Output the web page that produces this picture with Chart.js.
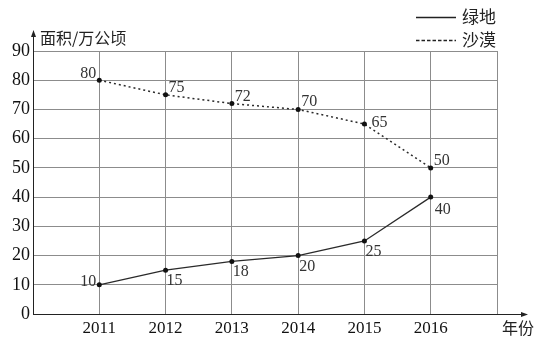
<!DOCTYPE html>
<html>
<head>
<meta charset="utf-8">
<script src="https://cdn.jsdelivr.net/npm/chart.js@4.4.1/dist/chart.umd.min.js"></script>
<style>
  html, body { margin: 0; padding: 0; background: #fff; }
</style>
</head>
<body>
<canvas id="chart" width="554" height="351"></canvas>
<script>
const years = [2011, 2012, 2013, 2014, 2015, 2016];
const greenland = [10, 15, 18, 20, 25, 40];
const desert = [80, 75, 72, 70, 65, 50];
const seriesNames = ['绿地', '沙漠'];
const yTitle = '面积/万公顷';
const xTitle = '年份';

const serif = '"Liberation Serif", "DejaVu Serif", serif';
const cjk = '"Noto Sans CJK SC", sans-serif';
const ink = '#222';

// axis arrows, titles, legend and value labels
const decorations = {
  id: 'decorations',
  afterDraw(chart) {
    const ctx = chart.ctx;
    const a = chart.chartArea;
    ctx.save();
    ctx.strokeStyle = ink;
    ctx.fillStyle = ink;
    ctx.lineWidth = 1;

    // y axis arrow
    ctx.beginPath();
    ctx.moveTo(a.left + 0.5, a.top);
    ctx.lineTo(a.left + 0.5, 35);
    ctx.stroke();
    ctx.beginPath();
    ctx.moveTo(a.left + 0.5, 30);
    ctx.lineTo(a.left - 2, 37);
    ctx.lineTo(a.left + 3, 37);
    ctx.closePath();
    ctx.fill();

    // x axis arrow
    ctx.beginPath();
    ctx.moveTo(a.right, a.bottom + 0.5);
    ctx.lineTo(522, a.bottom + 0.5);
    ctx.stroke();
    ctx.beginPath();
    ctx.moveTo(528, a.bottom + 0.5);
    ctx.lineTo(521, a.bottom - 2);
    ctx.lineTo(521, a.bottom + 3);
    ctx.closePath();
    ctx.fill();

    // axis titles
    ctx.font = '16px ' + cjk;
    ctx.textBaseline = 'middle';
    ctx.textAlign = 'left';
    ctx.fillText(yTitle, 40, 38);
    ctx.fillText(xTitle, 502, 328);

    // legend
    const legendY = [17, 40];
    chart.data.datasets.forEach((ds, i) => {
      ctx.beginPath();
      ctx.setLineDash(ds.borderDash ? [3.5, 2] : []);
      ctx.lineWidth = 1.6;
      ctx.moveTo(416, legendY[i] + 0.5);
      ctx.lineTo(456, legendY[i] + 0.5);
      ctx.stroke();
      ctx.setLineDash([]);
      ctx.font = '17px ' + cjk;
      ctx.fillText(seriesNames[i], 462, legendY[i]);
    });

    // value labels
    ctx.font = '16px ' + serif;
    ctx.fillStyle = '#333';
    ctx.textBaseline = 'alphabetic';
    chart.data.datasets.forEach((ds, di) => {
      const meta = chart.getDatasetMeta(di);
      meta.data.forEach((pt, i) => {
        const text = String(ds.data[i].y);
        let x = pt.x, y = pt.y;
        if (i === 0) {
          ctx.textAlign = 'right';
          x -= 3;
          y += di === 0 ? 1 : -2;
        } else if (di === 0) {
          ctx.textAlign = 'left';
          x += i === years.length - 1 ? 4 : 1;
          y += i === years.length - 1 ? 17 : 15;
        } else {
          ctx.textAlign = 'left';
          x += i === 4 ? 7 : 3;
          y += i === 4 ? 3 : -3;
        }
        ctx.fillText(text, x, y);
      });
    });
    ctx.restore();
  }
};

new Chart(document.getElementById('chart'), {
  type: 'line',
  data: {
    datasets: [{
      label: seriesNames[0],
      data: years.map((yr, i) => ({ x: yr, y: greenland[i] })),
      borderColor: '#2a2a2a',
      borderWidth: 1.3,
      pointRadius: 2.5,
      pointBackgroundColor: '#111',
      pointBorderWidth: 0,
      tension: 0
    }, {
      label: seriesNames[1],
      data: years.map((yr, i) => ({ x: yr, y: desert[i] })),
      borderColor: '#2a2a2a',
      borderWidth: 1.5,
      borderDash: [2, 3],
      pointRadius: 2.5,
      pointBackgroundColor: '#111',
      pointBorderWidth: 0,
      tension: 0
    }]
  },
  options: {
    responsive: false,
    devicePixelRatio: 1,
    animation: false,
    layout: { padding: { top: 51, right: 57, left: 0, bottom: 0 } },
    plugins: {
      legend: { display: false },
      tooltip: { enabled: false }
    },
    scales: {
      x: {
        type: 'linear',
        min: 2010,
        max: 2017,
        afterFit(scale) { scale.height = 37; },
        ticks: {
          stepSize: 1,
          padding: 4,
          color: '#111',
          font: { family: serif, size: 17 },
          callback: v => years.includes(v) ? String(v) : ''
        },
        grid: { color: '#8c8c8c', lineWidth: 1, drawTicks: false },
        border: { color: ink, width: 1 }
      },
      y: {
        min: 0,
        max: 90,
        afterFit(scale) { scale.width = 33; },
        ticks: {
          stepSize: 10,
          padding: 3,
          color: '#111',
          font: { family: serif, size: 18 }
        },
        grid: { color: '#8c8c8c', lineWidth: 1, drawTicks: false },
        border: { color: ink, width: 1 }
      }
    }
  },
  plugins: [decorations]
});
</script>
</body>
</html>
